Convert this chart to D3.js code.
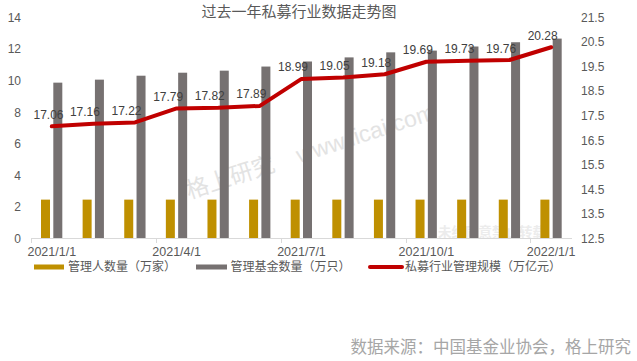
<!DOCTYPE html>
<html><head><meta charset="utf-8">
<script src="https://cdn.jsdelivr.net/npm/d3@7"></script>
<style>body{margin:0;background:#fff}svg{display:block}text{font-family:"Liberation Sans","Noto Sans CJK SC",sans-serif}</style>
</head><body>
<svg id="c" width="637" height="361"></svg>
<script>
const categories = ["2021/1/1","2021/2/1","2021/3/1","2021/4/1","2021/5/1","2021/6/1","2021/7/1","2021/8/1","2021/9/1","2021/10/1","2021/11/1","2021/12/1","2022/1/1"];
const managers = [2.45,2.45,2.45,2.45,2.45,2.45,2.45,2.45,2.45,2.45,2.45,2.45,2.45];
const funds = [9.86,10.05,10.30,10.49,10.62,10.88,11.20,11.46,11.78,11.89,12.15,12.42,12.65];
const scale = [17.06,17.16,17.22,17.79,17.82,17.89,18.99,19.05,19.18,19.69,19.73,19.76,20.28];
const leftTicks = [0,2,4,6,8,10,12,14];
const rightTicks = [12.5,13.5,14.5,15.5,16.5,17.5,18.5,19.5,20.5,21.5];
const xTickLabels = ["2021/1/1","2021/4/1","2021/7/1","2021/10/1","2022/1/1"];
const seriesNames = ["管理人数量（万家）","管理基金数量（万只）","私募行业管理规模（万亿元）"];
const title = "过去一年私募行业数据走势图";
const source = "数据来源：中国基金业协会，格上研究";

const colors = {gold:"#BF9000", gray:"#767171", red:"#C00000", text:"#595959", label:"#404040"};
const svg = d3.select("#c");
const x = d3.scaleBand().domain(categories).range([31,572]).padding(0);
const yL = d3.scaleLinear().domain([0,14]).range([238.3,17.3]);
const yR = d3.scaleLinear().domain([12.5,21.5]).range([238.3,17.3]);
const cx = d => x(d) + x.bandwidth()/2;

// watermark
const wm = svg.append("text").attr("transform","translate(189,199) rotate(-18)")
  .attr("font-size",23).attr("fill","#e3e3e3");
wm.append("tspan").text("格上研究");
wm.append("tspan").attr("dx",24).text("www.licai.com");
svg.append("text").attr("x",492).attr("y",237).attr("text-anchor","middle")
  .attr("font-size",13.5).attr("font-weight","bold").attr("fill","#ececec").text("未经同意禁止转载");

// title
svg.append("text").attr("x",299).attr("y",17).attr("text-anchor","middle")
  .attr("font-size",15).attr("fill",colors.text).text(title);

// bars
svg.append("g").selectAll("rect").data(categories).join("rect")
  .attr("x",d=>cx(d)-10.8).attr("width",9)
  .attr("y",(d,i)=>yL(managers[i])).attr("height",(d,i)=>yL(0)-yL(managers[i]))
  .attr("fill",colors.gold);
svg.append("g").selectAll("rect").data(categories).join("rect")
  .attr("x",d=>cx(d)+1.5).attr("width",9)
  .attr("y",(d,i)=>yL(funds[i])).attr("height",(d,i)=>yL(0)-yL(funds[i]))
  .attr("fill",colors.gray);

// x axis line and ticks
svg.append("line").attr("x1",31).attr("x2",572).attr("y1",238.5).attr("y2",238.5)
  .attr("stroke","#d9d9d9").attr("stroke-width",1);
svg.append("g").selectAll("line").data(xTickLabels).join("line")
  .attr("x1",d=>Math.round(x(d))+0.5).attr("x2",d=>Math.round(x(d))+0.5)
  .attr("y1",238.5).attr("y2",243).attr("stroke","#d9d9d9");
svg.append("g").selectAll("text").data(xTickLabels).join("text")
  .attr("x",d=>cx(d)).attr("y",256).attr("text-anchor","middle")
  .attr("font-size",12.5).attr("fill",colors.text).text(d=>d);

// y axes labels
svg.append("g").selectAll("text").data(leftTicks).join("text")
  .attr("x",21).attr("y",d=>yL(d)+4.5).attr("text-anchor","end")
  .attr("font-size",12).attr("fill",colors.text).text(d=>d);
svg.append("g").selectAll("text").data(rightTicks).join("text")
  .attr("x",581).attr("y",d=>yR(d)+4.5).attr("text-anchor","start")
  .attr("font-size",12).attr("fill",colors.text).text(d=>d.toFixed(1));

// line
const line = d3.line().x((d,i)=>cx(categories[i])).y(d=>yR(d));
svg.append("path").datum(scale).attr("d",line).attr("fill","none")
  .attr("stroke",colors.red).attr("stroke-width",4).attr("stroke-linejoin","round").attr("stroke-linecap","round");
svg.append("g").selectAll("text").data(scale).join("text")
  .attr("x",(d,i)=>Math.max(cx(categories[i])-8.5,48.5)).attr("y",d=>yR(d)-7.5)
  .attr("text-anchor","middle").attr("font-size",12).attr("fill",colors.label).text(d=>d.toFixed(2));

// legend
const lg = svg.append("g");
lg.append("rect").attr("x",34).attr("y",264.5).attr("width",30).attr("height",5).attr("fill",colors.gold);
lg.append("text").attr("x",68).attr("y",271).attr("font-size",12).attr("fill",colors.text).text(seriesNames[0]);
lg.append("rect").attr("x",196).attr("y",264.5).attr("width",31).attr("height",5).attr("fill",colors.gray);
lg.append("text").attr("x",230.5).attr("y",271).attr("font-size",12).attr("fill",colors.text).text(seriesNames[1]);
lg.append("line").attr("x1",370).attr("x2",402).attr("y1",267).attr("y2",267)
  .attr("stroke",colors.red).attr("stroke-width",4).attr("stroke-linecap","round");
lg.append("text").attr("x",405).attr("y",271).attr("font-size",12).attr("fill",colors.text).text(seriesNames[2]);

// source
svg.append("text").attr("x",631).attr("y",353).attr("text-anchor","end")
  .attr("font-size",16.5).attr("fill","#a6a6a6").text(source);
</script>
</body></html>
